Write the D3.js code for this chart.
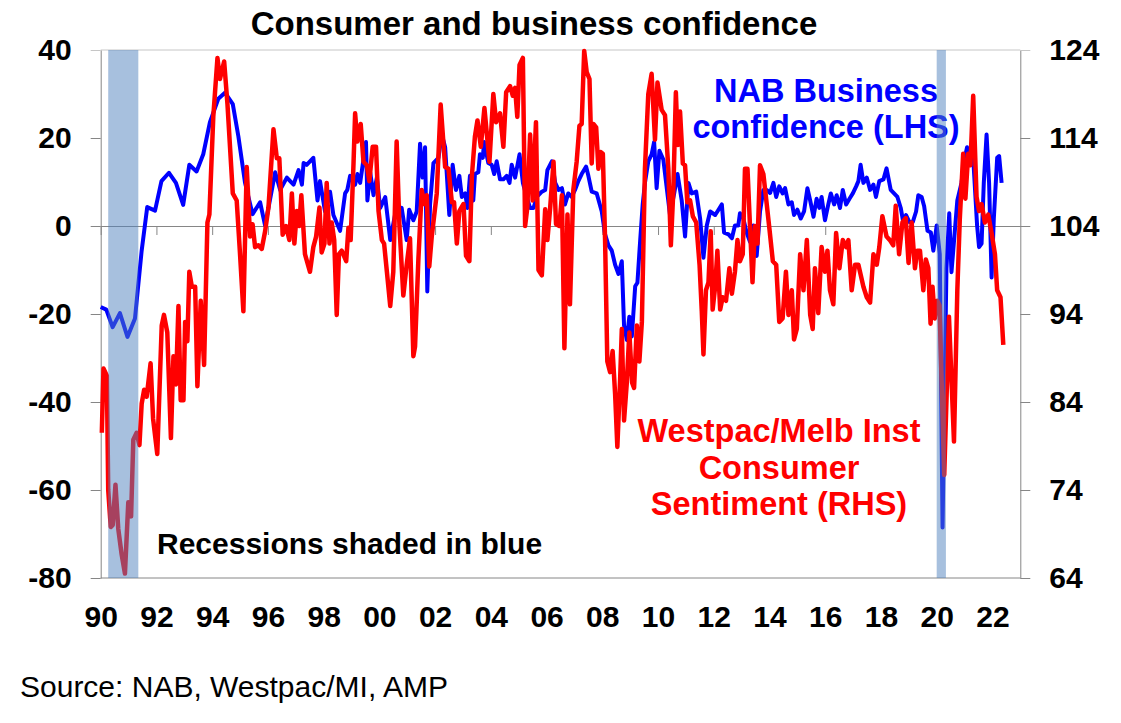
<!DOCTYPE html>
<html>
<head>
<meta charset="utf-8">
<script src="https://cdn.jsdelivr.net/npm/d3@7"></script>
<style>
    body { margin: 0; background: #fff; }
    svg { display: block; font-family: Arial, "Liberation Sans", sans-serif; }
</style>
</head>
<body>
<svg></svg>
<script>
// NAB business confidence (LHS), decimal years
const businessYears = [
    1990.00, 1990.20, 1990.43, 1990.69, 1990.96,
    1991.23, 1991.47, 1991.67, 1991.95,
    1992.18, 1992.45, 1992.70, 1992.96,
    1993.18, 1993.44, 1993.68, 1993.92,
    1994.22, 1994.46, 1994.74, 1994.94,
    1995.18, 1995.45, 1995.72, 1995.90,
    1996.26, 1996.44, 1996.68, 1996.92,
    1997.10, 1997.22, 1997.28, 1997.39, 1997.63, 1997.78, 1997.87,
    1998.05, 1998.23, 1998.35, 1998.59, 1998.77, 1998.85, 1998.95,
    1999.13, 1999.21, 1999.31, 1999.52, 1999.57, 1999.67, 1999.79, 1999.91,
    2000.03, 2000.21, 2000.39, 2000.56, 2000.80, 2000.98,
    2001.07, 2001.22, 2001.34, 2001.46, 2001.55, 2001.64, 2001.72, 2001.82, 2001.94,
    2002.12, 2002.24, 2002.36, 2002.51, 2002.63, 2002.75, 2002.87, 2002.96,
    2003.08, 2003.16, 2003.25, 2003.37, 2003.43, 2003.55, 2003.61, 2003.71, 2003.76, 2003.91,
    2004.03, 2004.12, 2004.21, 2004.33, 2004.45, 2004.57, 2004.67, 2004.75, 2004.87,
    2005.03, 2005.15, 2005.29, 2005.41, 2005.53, 2005.65, 2005.83, 2005.95,
    2006.03, 2006.19, 2006.31, 2006.43, 2006.55, 2006.66, 2006.78, 2006.90,
    2007.02, 2007.14, 2007.26, 2007.42, 2007.50, 2007.62, 2007.80, 2007.98,
    2008.10, 2008.22, 2008.34, 2008.46, 2008.58, 2008.70, 2008.78, 2008.88, 2008.97,
    2009.06, 2009.18, 2009.26, 2009.36, 2009.45, 2009.53, 2009.65, 2009.77, 2009.86, 2009.95,
    2010.05, 2010.19, 2010.29, 2010.43, 2010.58, 2010.70, 2010.85, 2010.97,
    2011.09, 2011.21, 2011.37, 2011.51, 2011.63, 2011.75, 2011.87,
    2012.05, 2012.17, 2012.29, 2012.37, 2012.53, 2012.65, 2012.76, 2012.88, 2012.94,
    2013.06, 2013.18, 2013.30, 2013.42, 2013.54, 2013.66, 2013.78, 2013.90,
    2014.02, 2014.14, 2014.24, 2014.35, 2014.47, 2014.56, 2014.68, 2014.80, 2014.88,
    2015.00, 2015.12, 2015.24, 2015.36, 2015.46, 2015.58, 2015.69, 2015.79, 2015.87, 2015.99,
    2016.11, 2016.20, 2016.32, 2016.41, 2016.53, 2016.63, 2016.75, 2016.87, 2016.99,
    2017.11, 2017.19, 2017.27, 2017.37, 2017.49, 2017.61, 2017.73, 2017.82, 2017.94,
    2018.09, 2018.20, 2018.35, 2018.47, 2018.59, 2018.71, 2018.80, 2018.90,
    2019.02, 2019.14, 2019.26, 2019.34, 2019.46, 2019.55, 2019.67, 2019.79, 2019.88,
    2020.00, 2020.11, 2020.21, 2020.35, 2020.45, 2020.53, 2020.74, 2020.89,
    2021.01, 2021.09, 2021.19, 2021.31, 2021.45, 2021.52, 2021.61, 2021.69, 2021.79, 2021.88, 2021.97,
    2022.05, 2022.17, 2022.24, 2022.33
]
const businessValues = [
    -18.4, -19.0, -23.0, -19.8, -25.2,
    -21.0, -5.6, 4.3, 3.5,
    10.2, 12.1, 9.8, 4.8,
    13.9, 12.4, 16.3, 23.6,
    28.9, 30.3, 27.7, 20.4,
    9.8, 2.7, 5.4, 0.1,
    12.2, 8.2, 11.0, 9.4,
    12.7, 9.4, 14.3, 13.9, 15.5, 5.8, 10.2,
    3.3, 7.8, 2.5, -1.1, 7.4, 8.2, 11.4,
    9.4, 11.8, 9.8, 19.1, 5.8, 12.2, 7.0, 11.0,
    4.1, 6.6, -3.2, 2.5, 4.1, -3.2,
    3.7, 1.3, 3.3, 18.7, 11.0, 17.9, -14.9, 5.0, 14.3,
    15.5, 20.8, 17.9, 2.5, 13.9, 8.2, 11.4, 6.6,
    7.4, 4.1, 11.4, 5.8, 11.8, 12.2, 16.3, 15.5, 19.1, 14.3,
    13.9, 11.8, 14.7, 10.6, 10.6, 11.4, 9.8, 13.9, 11.0,
    16.3, 9.8, 6.6, 4.1, 4.1, 6.6, 7.8, 8.2,
    12.7, 14.7, 9.8, 8.2, 8.6, 4.9, 7.4, 6.6,
    8.2, 10.2, 11.8, 13.5, 11.4, 7.8, 7.4, 3.3,
    -1.9, -4.4, -5.6, -8.8, -10.9, -8.0, -22.6, -25.9, -20.6,
    -25.1, -13.7, -12.9, -3.2, 4.9, 9.8, 14.7, 16.3, 19.1, 8.6,
    17.1, 15.1, 9.8, 2.5, 7.4, 11.8, 5.8, -2.4,
    9.8, 7.4, 7.8, 1.7, -7.2, 0.1, 3.3,
    2.5, 3.7, 4.9, -1.5, -1.9, -2.8, 0.1, 0.1, 2.9,
    1.7, -1.5, -3.6, 0.1, -6.8, 3.3, 8.2, 8.2,
    7.5, 9.8, 6.6, 9.0, 7.4, 8.6, 4.9, 5.4, 2.5,
    3.7, 1.7, 3.3, 8.6, 5.8, 2.1, 6.2, 4.1, 6.6, 1.3,
    4.9, 7.4, 4.9, 7.0, 4.1, 8.2, 4.9, 6.2, 7.4,
    9.0, 10.2, 13.9, 9.8, 11.0, 8.2, 9.4, 6.6, 10.2,
    10.6, 13.1, 8.2, 7.4, 6.6, 4.1, 0.9, 2.5,
    0.9, 0.9, 3.3, 7.0, 6.6, 4.5, -1.1, -1.5, -5.6,
    0.1, -6.4, -68.5, -9.7, 2.9, -10.5, 5.8, 9.8,
    15.5, 17.9, 14.3, 15.5, 0.1, -4.8, -4.0, 9.8, 20.8, 9.8, -11.7,
    1.7, 15.5, 15.9, 9.8
]

// Westpac/Melbourne Institute consumer sentiment (RHS)
const consumerYears = [
    1990.04, 1990.10, 1990.22, 1990.27, 1990.36, 1990.43, 1990.53, 1990.63, 1990.75, 1990.87, 1990.99,
    1991.09, 1991.17, 1991.29, 1991.39, 1991.47, 1991.56, 1991.65, 1991.79, 1991.88,
    1992.03, 1992.19, 1992.27, 1992.39, 1992.52, 1992.61, 1992.70, 1992.79, 1992.87, 1992.97,
    1993.03, 1993.11, 1993.18, 1993.27, 1993.39, 1993.47, 1993.59, 1993.71, 1993.83, 1993.90,
    1994.04, 1994.19, 1994.28, 1994.43, 1994.55, 1994.74, 1994.88,
    1995.00, 1995.12, 1995.24, 1995.36, 1995.45, 1995.54, 1995.66, 1995.78, 1995.90,
    1996.02, 1996.20, 1996.32, 1996.41, 1996.53, 1996.65, 1996.77, 1996.86, 1996.95,
    1997.04, 1997.12, 1997.20, 1997.33, 1997.51, 1997.63, 1997.73, 1997.85, 1997.93,
    1998.03, 1998.11, 1998.21, 1998.29, 1998.38, 1998.47, 1998.55, 1998.65, 1998.81, 1998.89, 1998.97,
    1999.07, 1999.13, 1999.21, 1999.33, 1999.43, 1999.55, 1999.64, 1999.76, 1999.88, 1999.97,
    2000.09, 2000.17, 2000.27, 2000.39, 2000.50, 2000.62, 2000.72, 2000.86, 2000.98,
    2001.10, 2001.22, 2001.28, 2001.40, 2001.52, 2001.61, 2001.70, 2001.79, 2001.88,
    2002.06, 2002.20, 2002.36, 2002.48, 2002.60, 2002.68, 2002.78, 2002.87,
    2003.02, 2003.11, 2003.23, 2003.32, 2003.43, 2003.52, 2003.64, 2003.77, 2003.95,
    2004.09, 2004.19, 2004.33, 2004.45, 2004.55, 2004.69, 2004.79, 2004.87, 2004.95,
    2005.03, 2005.15, 2005.23, 2005.31, 2005.41, 2005.50, 2005.62, 2005.71, 2005.83, 2005.95,
    2006.03, 2006.13, 2006.25, 2006.34, 2006.46, 2006.55, 2006.64, 2006.75, 2006.84, 2006.96,
    2007.08, 2007.18, 2007.26, 2007.35, 2007.44, 2007.54, 2007.62, 2007.68, 2007.78, 2007.86, 2007.94,
    2008.02, 2008.10, 2008.18, 2008.28, 2008.37, 2008.46, 2008.54, 2008.64, 2008.70, 2008.78, 2008.88, 2008.97,
    2009.07, 2009.14, 2009.24, 2009.33, 2009.42, 2009.53, 2009.65, 2009.77, 2009.89, 2009.98,
    2010.13, 2010.25, 2010.37, 2010.46, 2010.55, 2010.64, 2010.71, 2010.79, 2010.89, 2010.97,
    2011.05, 2011.15, 2011.25, 2011.37, 2011.49, 2011.57, 2011.63, 2011.72, 2011.81, 2011.89, 2011.96,
    2012.05, 2012.13, 2012.23, 2012.32, 2012.44, 2012.56, 2012.65, 2012.76, 2012.85, 2012.94,
    2013.04, 2013.12, 2013.21, 2013.30, 2013.39, 2013.48, 2013.57, 2013.66, 2013.78, 2013.90,
    2014.00, 2014.12, 2014.24, 2014.35, 2014.47, 2014.59, 2014.68, 2014.80, 2014.88, 2014.98,
    2015.10, 2015.22, 2015.34, 2015.46, 2015.55, 2015.63, 2015.75, 2015.87, 2015.99,
    2016.08, 2016.17, 2016.29, 2016.39, 2016.51, 2016.63, 2016.75, 2016.83, 2016.95,
    2017.07, 2017.19, 2017.37, 2017.49, 2017.61, 2017.73, 2017.85, 2017.94,
    2018.05, 2018.20, 2018.32, 2018.44, 2018.53, 2018.65, 2018.77, 2018.89, 2018.99,
    2019.10, 2019.22, 2019.30, 2019.40, 2019.52, 2019.61, 2019.70, 2019.78, 2019.85, 2019.93,
    2020.02, 2020.10, 2020.27, 2020.44, 2020.62, 2020.74, 2020.83, 2020.95,
    2021.03, 2021.13, 2021.21, 2021.31, 2021.43, 2021.52, 2021.61, 2021.73, 2021.85, 2021.97,
    2022.09, 2022.17, 2022.29, 2022.39
]
const consumerValues = [
    80.5, 87.8, 87.0, 74.0, 69.8, 70.0, 74.6, 69.6, 66.7, 64.5, 72.6,
    71.0, 79.7, 80.5, 79.1, 83.8, 85.4, 84.6, 88.4, 82.1,
    78.1, 92.7, 93.9, 91.9, 79.9, 89.2, 86.0, 94.9, 84.2, 84.2,
    93.1, 90.9, 98.8, 97.1, 97.1, 85.8, 95.5, 88.2, 104.4, 105.3,
    116.4, 123.1, 120.7, 122.7, 117.8, 107.7, 106.9,
    100.8, 94.3, 110.7, 102.8, 104.2, 101.6, 101.8, 101.4, 103.4,
    106.1, 115.0, 111.7, 111.7, 103.0, 104.0, 102.4, 107.7, 102.0,
    105.7, 104.0, 107.5, 100.8, 98.8, 101.6, 102.8, 106.1, 101.0,
    102.0, 108.9, 102.0, 104.4, 102.4, 93.9, 100.8, 101.2, 100.0, 103.8, 102.4,
    110.9, 116.8, 113.6, 115.6, 111.3, 110.9, 109.1, 113.0, 113.0, 105.7,
    102.4, 102.0, 98.8, 94.9, 98.8, 113.6, 104.0, 96.1, 99.6,
    102.6, 89.2, 90.3, 100.2, 108.1, 106.5, 107.5, 99.4, 102.8,
    107.7, 117.8, 110.7, 110.5, 106.7, 106.7, 102.0, 105.7,
    106.5, 100.6, 100.0, 109.7, 114.2, 116.0, 113.0, 117.4, 111.3,
    119.0, 115.8, 116.8, 113.0, 119.2, 119.9, 118.8, 119.7, 116.4,
    122.3, 123.1, 104.0, 106.1, 114.4, 106.9, 115.8, 99.0, 98.4, 105.9,
    102.4, 106.1, 111.3, 104.2, 104.0, 107.5, 90.1, 105.3, 95.1, 108.1,
    111.3, 115.4, 115.6, 123.9, 121.5, 120.7, 111.1, 115.6, 115.2, 110.5, 112.4,
    112.2, 102.4, 88.6, 87.4, 89.8, 84.9, 78.9, 86.6, 92.3, 81.9, 86.2, 91.9,
    86.2, 85.6, 92.7, 88.6, 93.1, 110.5, 119.0, 121.3, 113.8, 120.3,
    117.2, 116.6, 110.5, 101.8, 108.1, 119.2, 113.2, 117.0, 111.1, 110.9,
    106.7, 106.9, 105.1, 104.4, 99.6, 94.3, 89.4, 96.7, 97.6, 103.4, 94.5,
    97.1, 101.2, 94.5, 95.9, 95.5, 99.2, 96.3, 98.8, 102.4, 100.0,
    100.8, 110.5, 110.5, 104.0, 97.6, 104.0, 102.0, 110.9, 109.9, 106.5,
    103.6, 100.0, 99.6, 93.1, 93.5, 98.8, 93.9, 96.7, 91.1, 92.3,
    100.8, 96.7, 102.4, 93.9, 92.3, 99.2, 94.1, 101.6, 98.8,
    101.2, 96.7, 95.1, 103.2, 99.2, 102.4, 101.6, 102.4, 96.7,
    99.6, 99.6, 97.1, 95.9, 95.3, 100.8, 99.6, 101.6,
    105.1, 102.8, 102.4, 101.8, 106.3, 100.8, 104.4, 104.9, 99.8,
    104.4, 99.2, 101.2, 101.2, 96.7, 100.2, 99.2, 92.9, 97.1, 93.5,
    95.5, 95.0, 75.7, 93.7, 79.5, 96.7, 104.9, 112.2,
    107.1, 112.2, 110.9, 118.8, 107.3, 105.7, 106.5, 104.4, 105.3, 103.2,
    100.8, 96.7, 95.9, 90.5
]

const recessionStart = [1990.27, 2020.0]
const recessionEnd = [1991.35, 2020.33]

const yearTicks = d3.range(1990, 2023, 2)
const yearLabels = ["90", "92", "94", "96", "98", "00", "02", "04", "06", "08",
    "10", "12", "14", "16", "18", "20", "22"]
const leftTicks = [40, 20, 0, -20, -40, -60, -80]
const rightTicks = [124, 114, 104, 94, 84, 74, 64]

const width = 1121
const height = 723
const plot = { left: 100.7, right: 1020.3, top: 50, bottom: 578 }
const axisColor = "#868686"

const svg = d3.select('svg')
    .attr("width", width)
    .attr("height", height)

const x = d3.scaleLinear().domain([1990, 2023]).range([plot.left, plot.right])
const yLeft = d3.scaleLinear().domain([-80, 40]).range([plot.bottom, plot.top])
const yRight = d3.scaleLinear().domain([64, 124]).range([plot.bottom, plot.top])

console.log(businessYears.length, businessValues.length, consumerYears.length, consumerValues.length)

tekenAssen()
tekenLijnen()
tekenTeksten()
tekenRecessies()

function tekenAssen() {
    // light frame line along the top
    svg.append("line")
        .attr("x1", plot.left).attr("x2", plot.right)
        .attr("y1", plot.top).attr("y2", plot.top)
        .attr("stroke", "#c6c6c6")

    // bottom line at -80
    svg.append("line")
        .attr("x1", plot.left).attr("x2", plot.right)
        .attr("y1", plot.bottom).attr("y2", plot.bottom)
        .attr("stroke", axisColor)

    // plain hyphen for negatives, like the original
    const left = svg.append("g")
        .attr("transform", `translate(${plot.left},0)`)
        .call(d3.axisLeft(yLeft).tickValues(leftTicks).tickSize(10).tickSizeOuter(0).tickPadding(19)
            .tickFormat(d => String(d)))
    stijlAs(left)
    left.selectAll(".tick line").filter(d => d === 40).attr("stroke", "#c6c6c6")

    const right = svg.append("g")
        .attr("transform", `translate(${plot.right},0)`)
        .call(d3.axisRight(yRight).tickValues(rightTicks).tickSize(10).tickSizeOuter(0).tickPadding(19)
            .tickFormat(d => String(d)))
    stijlAs(right)
    right.selectAll(".tick line").filter(d => d === 124).attr("stroke", "#c6c6c6")

    // x axis sits on the zero line, ticks every two years
    const zero = svg.append("g")
        .attr("transform", `translate(0,${yLeft(0)})`)
        .call(d3.axisBottom(x).tickValues(yearTicks).tickSize(9).tickSizeOuter(0).tickFormat(""))
    zero.select(".domain").attr("stroke", axisColor)
    zero.selectAll(".tick line").attr("stroke", axisColor)

    const labels = svg.append("g")
        .attr("transform", `translate(0,${plot.bottom})`)
        .call(d3.axisBottom(x).tickValues(yearTicks).tickSize(0).tickPadding(28)
            .tickFormat((d, i) => yearLabels[i]))
    labels.select(".domain").remove()
    labels.selectAll("text")
        .attr("font-size", 30)
        .attr("font-weight", "bold")
        .attr("font-family", "Arial, 'Liberation Sans', sans-serif")
        .attr("fill", "#000")
}

function stijlAs(g) {
    g.select(".domain").attr("stroke", axisColor)
    g.selectAll(".tick line").attr("stroke", axisColor)
    g.selectAll("text")
        .attr("font-size", 30)
        .attr("font-weight", "bold")
        .attr("font-family", "Arial, 'Liberation Sans', sans-serif")
        .attr("fill", "#000")
}

function tekenLijnen() {
    const business = businessYears.map((year, i) => ({ year, value: businessValues[i] }))
    const consumer = consumerYears.map((year, i) => ({ year, value: consumerValues[i] }))

    const lijnLinks = d3.line()
        .x(d => x(d.year))
        .y(d => yLeft(d.value))
    const lijnRechts = d3.line()
        .x(d => x(d.year))
        .y(d => yRight(d.value))

    svg.append("path")
        .datum(business)
        .attr("d", lijnLinks)
        .attr("fill", "none")
        .attr("stroke", "#0000ff")
        .attr("stroke-width", 4)
        .attr("stroke-linejoin", "round")

    svg.append("path")
        .datum(consumer)
        .attr("d", lijnRechts)
        .attr("fill", "none")
        .attr("stroke", "#ff0000")
        .attr("stroke-width", 4.5)
        .attr("stroke-linejoin", "round")
}

function tekenTeksten() {
    svg.append("text")
        .attr("x", 534).attr("y", 35)
        .attr("text-anchor", "middle")
        .attr("font-size", 33).attr("font-weight", "bold")
        .text("Consumer and business confidence")

    const nab = svg.append("text")
        .attr("text-anchor", "middle")
        .attr("font-size", 32.5).attr("font-weight", "bold")
        .attr("fill", "#0000ff")
    nab.append("tspan").attr("x", 826).attr("y", 102).text("NAB Business")
    nab.append("tspan").attr("x", 826).attr("y", 138).text("confidence (LHS)")

    const wbc = svg.append("text")
        .attr("text-anchor", "middle")
        .attr("font-size", 32.5).attr("font-weight", "bold")
        .attr("fill", "#ff0000")
    wbc.append("tspan").attr("x", 779).attr("y", 442).text("Westpac/Melb Inst")
    wbc.append("tspan").attr("x", 779).attr("y", 479).text("Consumer")
    wbc.append("tspan").attr("x", 779).attr("y", 515).text("Sentiment (RHS)")

    svg.append("text")
        .attr("x", 157).attr("y", 554)
        .attr("font-size", 30).attr("font-weight", "bold")
        .text("Recessions shaded in blue")

    svg.append("text")
        .attr("x", 20).attr("y", 697)
        .attr("font-size", 30)
        .text("Source: NAB, Westpac/MI, AMP")
}

function tekenRecessies() {
    svg.append("g")
        .selectAll("rect")
        .data(recessionStart)
        .enter()
        .append("rect")
        .attr("x", d => x(d))
        .attr("width", (d, i) => x(recessionEnd[i]) - x(d))
        .attr("y", plot.top)
        .attr("height", plot.bottom - plot.top)
        .attr("fill", "#4f81bd")
        .attr("fill-opacity", 0.5)
}
</script>
</body>
</html>
